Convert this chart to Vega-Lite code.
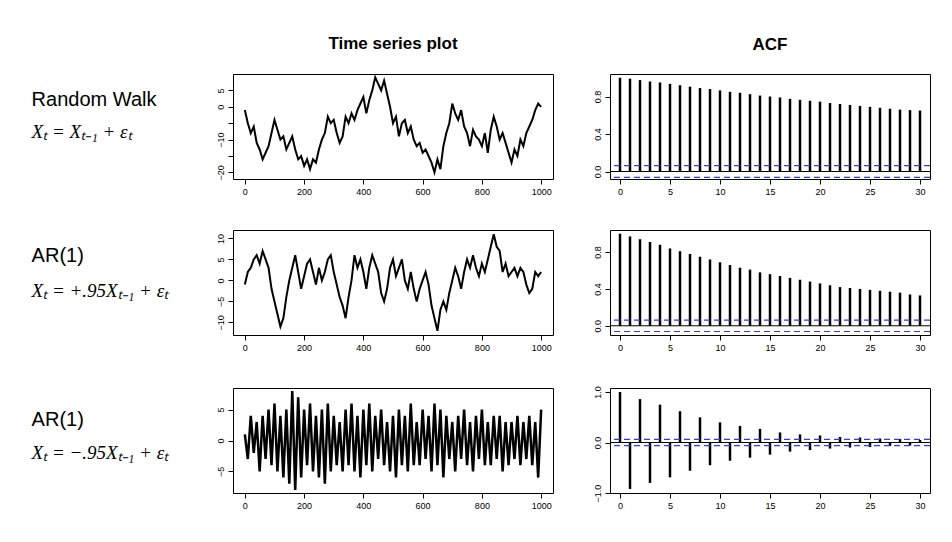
{
  "$schema": "https://vega.github.io/schema/vega-lite/v6.json",
  "background": "white",
  "padding": {"left": 5, "top": 34, "right": 5, "bottom": 5},
  "datasets": {
    "labels": [
      {"row": "rw", "name": "Random Walk", "formula": "Xₜ = Xₜ₋₁ + εₜ"},
      {"row": "ar1", "name": "AR(1)", "formula": "Xₜ = +.95Xₜ₋₁ + εₜ"},
      {"row": "ar2", "name": "AR(1)", "formula": "Xₜ = −.95Xₜ₋₁ + εₜ"}
    ],
    "ts": [
      {"s":"rw","t":0,"v":-1},{"s":"rw","t":10,"v":-5},{"s":"rw","t":20,"v":-8},{"s":"rw","t":30,"v":-6},{"s":"rw","t":40,"v":-11},{"s":"rw","t":50,"v":-13},{"s":"rw","t":60,"v":-16},{"s":"rw","t":70,"v":-14},{"s":"rw","t":80,"v":-12},{"s":"rw","t":90,"v":-8},
      {"s":"rw","t":100,"v":-4},{"s":"rw","t":110,"v":-7},{"s":"rw","t":120,"v":-10},{"s":"rw","t":130,"v":-9},{"s":"rw","t":140,"v":-13},{"s":"rw","t":150,"v":-11},{"s":"rw","t":160,"v":-9},{"s":"rw","t":170,"v":-13},{"s":"rw","t":180,"v":-16},{"s":"rw","t":190,"v":-15},
      {"s":"rw","t":200,"v":-18},{"s":"rw","t":210,"v":-16},{"s":"rw","t":220,"v":-19},{"s":"rw","t":230,"v":-16},{"s":"rw","t":240,"v":-17},{"s":"rw","t":250,"v":-13},{"s":"rw","t":260,"v":-10},{"s":"rw","t":270,"v":-8},{"s":"rw","t":280,"v":-3},{"s":"rw","t":290,"v":-5},
      {"s":"rw","t":300,"v":-4},{"s":"rw","t":310,"v":-8},{"s":"rw","t":320,"v":-11},{"s":"rw","t":330,"v":-9},{"s":"rw","t":340,"v":-3},{"s":"rw","t":350,"v":-5},{"s":"rw","t":360,"v":-2},{"s":"rw","t":370,"v":-4},{"s":"rw","t":380,"v":-1},{"s":"rw","t":390,"v":1},
      {"s":"rw","t":400,"v":3},{"s":"rw","t":410,"v":-2},{"s":"rw","t":420,"v":2},{"s":"rw","t":430,"v":5},{"s":"rw","t":440,"v":9},{"s":"rw","t":450,"v":7},{"s":"rw","t":460,"v":5},{"s":"rw","t":470,"v":8},{"s":"rw","t":480,"v":4},{"s":"rw","t":490,"v":0},
      {"s":"rw","t":500,"v":-5},{"s":"rw","t":510,"v":-3},{"s":"rw","t":520,"v":-9},{"s":"rw","t":530,"v":-5},{"s":"rw","t":540,"v":-4},{"s":"rw","t":550,"v":-8},{"s":"rw","t":560,"v":-6},{"s":"rw","t":570,"v":-10},{"s":"rw","t":580,"v":-12},{"s":"rw","t":590,"v":-11},
      {"s":"rw","t":600,"v":-14},{"s":"rw","t":610,"v":-13},{"s":"rw","t":620,"v":-15},{"s":"rw","t":630,"v":-17},{"s":"rw","t":640,"v":-20},{"s":"rw","t":650,"v":-16},{"s":"rw","t":660,"v":-19},{"s":"rw","t":670,"v":-12},{"s":"rw","t":680,"v":-8},{"s":"rw","t":690,"v":-5},
      {"s":"rw","t":700,"v":1},{"s":"rw","t":710,"v":-2},{"s":"rw","t":720,"v":-4},{"s":"rw","t":730,"v":-1},{"s":"rw","t":740,"v":-6},{"s":"rw","t":750,"v":-8},{"s":"rw","t":760,"v":-12},{"s":"rw","t":770,"v":-7},{"s":"rw","t":780,"v":-9},{"s":"rw","t":790,"v":-10},
      {"s":"rw","t":800,"v":-12},{"s":"rw","t":810,"v":-8},{"s":"rw","t":820,"v":-14},{"s":"rw","t":830,"v":-7},{"s":"rw","t":840,"v":-3},{"s":"rw","t":850,"v":-6},{"s":"rw","t":860,"v":-10},{"s":"rw","t":870,"v":-8},{"s":"rw","t":880,"v":-11},{"s":"rw","t":890,"v":-14},
      {"s":"rw","t":900,"v":-17},{"s":"rw","t":910,"v":-13},{"s":"rw","t":920,"v":-15},{"s":"rw","t":930,"v":-10},{"s":"rw","t":940,"v":-12},{"s":"rw","t":950,"v":-8},{"s":"rw","t":960,"v":-6},{"s":"rw","t":970,"v":-4},{"s":"rw","t":980,"v":-1},{"s":"rw","t":990,"v":1},{"s":"rw","t":1000,"v":0},

      {"s":"ar1","t":0,"v":-1},{"s":"ar1","t":10,"v":2},{"s":"ar1","t":20,"v":3},{"s":"ar1","t":30,"v":5},{"s":"ar1","t":40,"v":6},{"s":"ar1","t":50,"v":4},{"s":"ar1","t":60,"v":7},{"s":"ar1","t":70,"v":5},{"s":"ar1","t":80,"v":3},{"s":"ar1","t":90,"v":-2},
      {"s":"ar1","t":100,"v":-5},{"s":"ar1","t":110,"v":-8},{"s":"ar1","t":120,"v":-11},{"s":"ar1","t":130,"v":-9},{"s":"ar1","t":140,"v":-4},{"s":"ar1","t":150,"v":0},{"s":"ar1","t":160,"v":3},{"s":"ar1","t":170,"v":6},{"s":"ar1","t":180,"v":2},{"s":"ar1","t":190,"v":-2},
      {"s":"ar1","t":200,"v":1},{"s":"ar1","t":210,"v":4},{"s":"ar1","t":220,"v":5},{"s":"ar1","t":230,"v":2},{"s":"ar1","t":240,"v":-1},{"s":"ar1","t":250,"v":3},{"s":"ar1","t":260,"v":0},{"s":"ar1","t":270,"v":2},{"s":"ar1","t":280,"v":5},{"s":"ar1","t":290,"v":6},
      {"s":"ar1","t":300,"v":2},{"s":"ar1","t":310,"v":-1},{"s":"ar1","t":320,"v":-4},{"s":"ar1","t":330,"v":-6},{"s":"ar1","t":340,"v":-9},{"s":"ar1","t":350,"v":-4},{"s":"ar1","t":360,"v":0},{"s":"ar1","t":370,"v":6},{"s":"ar1","t":380,"v":3},{"s":"ar1","t":390,"v":5},
      {"s":"ar1","t":400,"v":2},{"s":"ar1","t":410,"v":-2},{"s":"ar1","t":420,"v":3},{"s":"ar1","t":430,"v":6},{"s":"ar1","t":440,"v":4},{"s":"ar1","t":450,"v":2},{"s":"ar1","t":460,"v":-3},{"s":"ar1","t":470,"v":-5},{"s":"ar1","t":480,"v":-2},{"s":"ar1","t":490,"v":3},
      {"s":"ar1","t":500,"v":5},{"s":"ar1","t":510,"v":1},{"s":"ar1","t":520,"v":3},{"s":"ar1","t":530,"v":5},{"s":"ar1","t":540,"v":0},{"s":"ar1","t":550,"v":-2},{"s":"ar1","t":560,"v":2},{"s":"ar1","t":570,"v":-2},{"s":"ar1","t":580,"v":-5},{"s":"ar1","t":590,"v":-2},
      {"s":"ar1","t":600,"v":0},{"s":"ar1","t":610,"v":2},{"s":"ar1","t":620,"v":-1},{"s":"ar1","t":630,"v":-6},{"s":"ar1","t":640,"v":-9},{"s":"ar1","t":650,"v":-12},{"s":"ar1","t":660,"v":-7},{"s":"ar1","t":670,"v":-5},{"s":"ar1","t":680,"v":-7},{"s":"ar1","t":690,"v":-3},
      {"s":"ar1","t":700,"v":0},{"s":"ar1","t":710,"v":3},{"s":"ar1","t":720,"v":1},{"s":"ar1","t":730,"v":-2},{"s":"ar1","t":740,"v":2},{"s":"ar1","t":750,"v":5},{"s":"ar1","t":760,"v":3},{"s":"ar1","t":770,"v":6},{"s":"ar1","t":780,"v":3},{"s":"ar1","t":790,"v":1},
      {"s":"ar1","t":800,"v":4},{"s":"ar1","t":810,"v":2},{"s":"ar1","t":820,"v":5},{"s":"ar1","t":830,"v":8},{"s":"ar1","t":840,"v":11},{"s":"ar1","t":850,"v":8},{"s":"ar1","t":860,"v":7},{"s":"ar1","t":870,"v":2},{"s":"ar1","t":880,"v":4},{"s":"ar1","t":890,"v":1},
      {"s":"ar1","t":900,"v":2},{"s":"ar1","t":910,"v":3},{"s":"ar1","t":920,"v":1},{"s":"ar1","t":930,"v":3},{"s":"ar1","t":940,"v":2},{"s":"ar1","t":950,"v":-1},{"s":"ar1","t":960,"v":-3},{"s":"ar1","t":970,"v":-2},{"s":"ar1","t":980,"v":2},{"s":"ar1","t":990,"v":1},{"s":"ar1","t":1000,"v":2},

      {"s":"ar2","t":0,"v":1},{"s":"ar2","t":10,"v":-3},{"s":"ar2","t":20,"v":4},{"s":"ar2","t":30,"v":-2},{"s":"ar2","t":40,"v":3},{"s":"ar2","t":50,"v":-5},{"s":"ar2","t":60,"v":4},{"s":"ar2","t":70,"v":-3},{"s":"ar2","t":80,"v":5},{"s":"ar2","t":90,"v":-4},
      {"s":"ar2","t":100,"v":6},{"s":"ar2","t":110,"v":-5},{"s":"ar2","t":120,"v":4},{"s":"ar2","t":130,"v":-6},{"s":"ar2","t":140,"v":5},{"s":"ar2","t":150,"v":-7},{"s":"ar2","t":160,"v":8},{"s":"ar2","t":170,"v":-8},{"s":"ar2","t":180,"v":7},{"s":"ar2","t":190,"v":-6},
      {"s":"ar2","t":200,"v":5},{"s":"ar2","t":210,"v":-4},{"s":"ar2","t":220,"v":6},{"s":"ar2","t":230,"v":-5},{"s":"ar2","t":240,"v":4},{"s":"ar2","t":250,"v":-6},{"s":"ar2","t":260,"v":5},{"s":"ar2","t":270,"v":-7},{"s":"ar2","t":280,"v":6},{"s":"ar2","t":290,"v":-5},
      {"s":"ar2","t":300,"v":4},{"s":"ar2","t":310,"v":-4},{"s":"ar2","t":320,"v":3},{"s":"ar2","t":330,"v":-5},{"s":"ar2","t":340,"v":5},{"s":"ar2","t":350,"v":-4},{"s":"ar2","t":360,"v":6},{"s":"ar2","t":370,"v":-5},{"s":"ar2","t":380,"v":4},{"s":"ar2","t":390,"v":-6},
      {"s":"ar2","t":400,"v":5},{"s":"ar2","t":410,"v":-4},{"s":"ar2","t":420,"v":6},{"s":"ar2","t":430,"v":-5},{"s":"ar2","t":440,"v":4},{"s":"ar2","t":450,"v":-3},{"s":"ar2","t":460,"v":5},{"s":"ar2","t":470,"v":-4},{"s":"ar2","t":480,"v":3},{"s":"ar2","t":490,"v":-5},
      {"s":"ar2","t":500,"v":4},{"s":"ar2","t":510,"v":-6},{"s":"ar2","t":520,"v":5},{"s":"ar2","t":530,"v":-4},{"s":"ar2","t":540,"v":4},{"s":"ar2","t":550,"v":-5},{"s":"ar2","t":560,"v":6},{"s":"ar2","t":570,"v":-4},{"s":"ar2","t":580,"v":3},{"s":"ar2","t":590,"v":-4},
      {"s":"ar2","t":600,"v":5},{"s":"ar2","t":610,"v":-3},{"s":"ar2","t":620,"v":4},{"s":"ar2","t":630,"v":-5},{"s":"ar2","t":640,"v":6},{"s":"ar2","t":650,"v":-4},{"s":"ar2","t":660,"v":5},{"s":"ar2","t":670,"v":-6},{"s":"ar2","t":680,"v":4},{"s":"ar2","t":690,"v":-3},
      {"s":"ar2","t":700,"v":3},{"s":"ar2","t":710,"v":-5},{"s":"ar2","t":720,"v":4},{"s":"ar2","t":730,"v":-3},{"s":"ar2","t":740,"v":5},{"s":"ar2","t":750,"v":-4},{"s":"ar2","t":760,"v":3},{"s":"ar2","t":770,"v":-5},{"s":"ar2","t":780,"v":4},{"s":"ar2","t":790,"v":-3},
      {"s":"ar2","t":800,"v":5},{"s":"ar2","t":810,"v":-4},{"s":"ar2","t":820,"v":3},{"s":"ar2","t":830,"v":-4},{"s":"ar2","t":840,"v":4},{"s":"ar2","t":850,"v":-3},{"s":"ar2","t":860,"v":4},{"s":"ar2","t":870,"v":-5},{"s":"ar2","t":880,"v":3},{"s":"ar2","t":890,"v":-4},
      {"s":"ar2","t":900,"v":3},{"s":"ar2","t":910,"v":-3},{"s":"ar2","t":920,"v":4},{"s":"ar2","t":930,"v":-4},{"s":"ar2","t":940,"v":3},{"s":"ar2","t":950,"v":-3},{"s":"ar2","t":960,"v":4},{"s":"ar2","t":970,"v":-4},{"s":"ar2","t":980,"v":3},{"s":"ar2","t":990,"v":-6},{"s":"ar2","t":1000,"v":5}
    ],
    "acf": [
      {"s":"rw","lag":0,"r":1},{"s":"rw","lag":1,"r":0.99},{"s":"rw","lag":2,"r":0.975},{"s":"rw","lag":3,"r":0.96},{"s":"rw","lag":4,"r":0.95},{"s":"rw","lag":5,"r":0.935},{"s":"rw","lag":6,"r":0.92},{"s":"rw","lag":7,"r":0.905},{"s":"rw","lag":8,"r":0.89},{"s":"rw","lag":9,"r":0.88},{"s":"rw","lag":10,"r":0.865},
      {"s":"rw","lag":11,"r":0.85},{"s":"rw","lag":12,"r":0.84},{"s":"rw","lag":13,"r":0.825},{"s":"rw","lag":14,"r":0.81},{"s":"rw","lag":15,"r":0.8},{"s":"rw","lag":16,"r":0.79},{"s":"rw","lag":17,"r":0.775},{"s":"rw","lag":18,"r":0.765},{"s":"rw","lag":19,"r":0.755},{"s":"rw","lag":20,"r":0.745},
      {"s":"rw","lag":21,"r":0.73},{"s":"rw","lag":22,"r":0.72},{"s":"rw","lag":23,"r":0.71},{"s":"rw","lag":24,"r":0.7},{"s":"rw","lag":25,"r":0.69},{"s":"rw","lag":26,"r":0.68},{"s":"rw","lag":27,"r":0.67},{"s":"rw","lag":28,"r":0.66},{"s":"rw","lag":29,"r":0.655},{"s":"rw","lag":30,"r":0.65},
      {"s":"ar1","lag":0,"r":1},{"s":"ar1","lag":1,"r":0.97},{"s":"ar1","lag":2,"r":0.94},{"s":"ar1","lag":3,"r":0.91},{"s":"ar1","lag":4,"r":0.88},{"s":"ar1","lag":5,"r":0.84},{"s":"ar1","lag":6,"r":0.81},{"s":"ar1","lag":7,"r":0.78},{"s":"ar1","lag":8,"r":0.75},{"s":"ar1","lag":9,"r":0.72},{"s":"ar1","lag":10,"r":0.69},
      {"s":"ar1","lag":11,"r":0.66},{"s":"ar1","lag":12,"r":0.63},{"s":"ar1","lag":13,"r":0.61},{"s":"ar1","lag":14,"r":0.58},{"s":"ar1","lag":15,"r":0.56},{"s":"ar1","lag":16,"r":0.54},{"s":"ar1","lag":17,"r":0.52},{"s":"ar1","lag":18,"r":0.5},{"s":"ar1","lag":19,"r":0.48},{"s":"ar1","lag":20,"r":0.46},
      {"s":"ar1","lag":21,"r":0.44},{"s":"ar1","lag":22,"r":0.42},{"s":"ar1","lag":23,"r":0.41},{"s":"ar1","lag":24,"r":0.4},{"s":"ar1","lag":25,"r":0.39},{"s":"ar1","lag":26,"r":0.38},{"s":"ar1","lag":27,"r":0.37},{"s":"ar1","lag":28,"r":0.36},{"s":"ar1","lag":29,"r":0.34},{"s":"ar1","lag":30,"r":0.33},
      {"s":"ar2","lag":0,"r":1},{"s":"ar2","lag":1,"r":-0.92},{"s":"ar2","lag":2,"r":0.86},{"s":"ar2","lag":3,"r":-0.8},{"s":"ar2","lag":4,"r":0.75},{"s":"ar2","lag":5,"r":-0.69},{"s":"ar2","lag":6,"r":0.62},{"s":"ar2","lag":7,"r":-0.56},{"s":"ar2","lag":8,"r":0.5},{"s":"ar2","lag":9,"r":-0.45},{"s":"ar2","lag":10,"r":0.4},
      {"s":"ar2","lag":11,"r":-0.36},{"s":"ar2","lag":12,"r":0.33},{"s":"ar2","lag":13,"r":-0.3},{"s":"ar2","lag":14,"r":0.27},{"s":"ar2","lag":15,"r":-0.24},{"s":"ar2","lag":16,"r":0.2},{"s":"ar2","lag":17,"r":-0.18},{"s":"ar2","lag":18,"r":0.16},{"s":"ar2","lag":19,"r":-0.15},{"s":"ar2","lag":20,"r":0.14},
      {"s":"ar2","lag":21,"r":-0.12},{"s":"ar2","lag":22,"r":0.11},{"s":"ar2","lag":23,"r":-0.1},{"s":"ar2","lag":24,"r":0.1},{"s":"ar2","lag":25,"r":-0.09},{"s":"ar2","lag":26,"r":0.08},{"s":"ar2","lag":27,"r":-0.07},{"s":"ar2","lag":28,"r":0.07},{"s":"ar2","lag":29,"r":-0.06},{"s":"ar2","lag":30,"r":0.05}
    ],
    "ci": [{"c": 0.062}, {"c": -0.062}],
    "zero": [{"z": 0}]
  },
  "vconcat": [
    {
      "hconcat": [
        {
          "width": 190, "height": 105,
          "view": {"stroke": null},
          "title": {"text": " ", "fontSize": 17, "offset": 20},
          "data": {"name": "labels"},
          "transform": [{"filter": "datum.row === 'rw'"}],
          "layer": [
            {"mark": {"type": "text", "align": "left", "font": "Arial", "fontSize": 20, "baseline": "middle"},
             "encoding": {"x": {"datum": 0.14, "type": "quantitative", "scale": {"domain": [0, 1]}, "axis": null},
                          "y": {"datum": 0.75, "type": "quantitative", "scale": {"domain": [0, 1]}, "axis": null},
                          "text": {"field": "name"}}},
            {"mark": {"type": "text", "align": "left", "font": "Liberation Serif", "fontStyle": "italic", "fontSize": 19, "baseline": "middle"},
             "encoding": {"x": {"datum": 0.14, "type": "quantitative"},
                          "y": {"datum": 0.45, "type": "quantitative"},
                          "text": {"field": "formula"}}}
          ]
        },
        {
          "spacing": 38,
          "hconcat": [
            {
              "width": 320, "height": 105,
              "title": {"text": "Time series plot", "fontSize": 17, "font": "Arial", "fontWeight": "bold", "offset": 20},
              "data": {"name": "ts"},
              "transform": [{"filter": "datum.s === 'rw'"}],
              "mark": {"type": "line", "color": "black", "strokeWidth": 2},
              "encoding": {
                "x": {"field": "t", "type": "quantitative", "title": null, "scale": {"domain": [-40, 1040], "nice": false}, "axis": {"values": [0, 200, 400, 600, 800, 1000], "format": "d"}},
                "y": {"field": "v", "type": "quantitative", "title": null, "scale": {"domain": [-22, 10], "nice": false}, "axis": {"values": [-20, -15, -10, -5, 0, 5], "labelExpr": "datum.value % 10 === 0 || datum.value === 5 ? datum.label : ''"}}
              }
            },
            {
              "width": 320, "height": 105,
              "title": {"text": "ACF", "fontSize": 17, "font": "Arial", "fontWeight": "bold", "offset": 20},
              "layer": [
                {"data": {"name": "acf"}, "transform": [{"filter": "datum.s === 'rw'"}],
                 "mark": {"type": "rule", "color": "black", "strokeWidth": 2.5},
                 "encoding": {"x": {"field": "lag", "type": "quantitative", "title": null, "scale": {"domain": [-1, 31], "nice": false}, "axis": {"values": [0, 5, 10, 15, 20, 25, 30]}},
                              "y": {"field": "r", "type": "quantitative", "title": null, "scale": {"domain": [-0.08, 1.04], "nice": false}, "axis": {"values": [0, 0.2, 0.4, 0.6, 0.8], "format": ".1f", "labelExpr": "datum.value === 0.2 || datum.value === 0.6 ? '' : datum.label"}},
                              "y2": {"datum": 0}}},
                {"data": {"name": "zero"}, "mark": {"type": "rule", "color": "black", "strokeWidth": 1}, "encoding": {"y": {"field": "z", "type": "quantitative"}}},
                {"data": {"name": "ci"}, "mark": {"type": "rule", "color": "#2a3bff", "strokeWidth": 1.2, "strokeDash": [6, 4]}, "encoding": {"y": {"field": "c", "type": "quantitative"}}}
              ]
            }
          ]
        }
      ]
    },
    {
      "hconcat": [
        {
          "width": 190, "height": 105,
          "view": {"stroke": null},
          "data": {"name": "labels"},
          "transform": [{"filter": "datum.row === 'ar1'"}],
          "layer": [
            {"mark": {"type": "text", "align": "left", "font": "Arial", "fontSize": 20, "baseline": "middle"},
             "encoding": {"x": {"datum": 0.14, "type": "quantitative", "scale": {"domain": [0, 1]}, "axis": null},
                          "y": {"datum": 0.75, "type": "quantitative", "scale": {"domain": [0, 1]}, "axis": null},
                          "text": {"field": "name"}}},
            {"mark": {"type": "text", "align": "left", "font": "Liberation Serif", "fontStyle": "italic", "fontSize": 19, "baseline": "middle"},
             "encoding": {"x": {"datum": 0.14, "type": "quantitative"},
                          "y": {"datum": 0.42, "type": "quantitative"},
                          "text": {"field": "formula"}}}
          ]
        },
        {
          "spacing": 38,
          "hconcat": [
            {
              "width": 320, "height": 105,
              "data": {"name": "ts"},
              "transform": [{"filter": "datum.s === 'ar1'"}],
              "mark": {"type": "line", "color": "black", "strokeWidth": 2},
              "encoding": {
                "x": {"field": "t", "type": "quantitative", "title": null, "scale": {"domain": [-40, 1040], "nice": false}, "axis": {"values": [0, 200, 400, 600, 800, 1000], "format": "d"}},
                "y": {"field": "v", "type": "quantitative", "title": null, "scale": {"domain": [-13, 12], "nice": false}, "axis": {"values": [-10, -5, 0, 5, 10]}}
              }
            },
            {
              "width": 320, "height": 105,
              "layer": [
                {"data": {"name": "acf"}, "transform": [{"filter": "datum.s === 'ar1'"}],
                 "mark": {"type": "rule", "color": "black", "strokeWidth": 2.5},
                 "encoding": {"x": {"field": "lag", "type": "quantitative", "title": null, "scale": {"domain": [-1, 31], "nice": false}, "axis": {"values": [0, 5, 10, 15, 20, 25, 30]}},
                              "y": {"field": "r", "type": "quantitative", "title": null, "scale": {"domain": [-0.1, 1.04], "nice": false}, "axis": {"values": [0, 0.2, 0.4, 0.6, 0.8], "format": ".1f", "labelExpr": "datum.value === 0.2 || datum.value === 0.6 ? '' : datum.label"}},
                              "y2": {"datum": 0}}},
                {"data": {"name": "zero"}, "mark": {"type": "rule", "color": "black", "strokeWidth": 1}, "encoding": {"y": {"field": "z", "type": "quantitative"}}},
                {"data": {"name": "ci"}, "mark": {"type": "rule", "color": "#2a3bff", "strokeWidth": 1.2, "strokeDash": [6, 4]}, "encoding": {"y": {"field": "c", "type": "quantitative"}}}
              ]
            }
          ]
        }
      ]
    },
    {
      "hconcat": [
        {
          "width": 190, "height": 105,
          "view": {"stroke": null},
          "data": {"name": "labels"},
          "transform": [{"filter": "datum.row === 'ar2'"}],
          "layer": [
            {"mark": {"type": "text", "align": "left", "font": "Arial", "fontSize": 20, "baseline": "middle"},
             "encoding": {"x": {"datum": 0.14, "type": "quantitative", "scale": {"domain": [0, 1]}, "axis": null},
                          "y": {"datum": 0.7, "type": "quantitative", "scale": {"domain": [0, 1]}, "axis": null},
                          "text": {"field": "name"}}},
            {"mark": {"type": "text", "align": "left", "font": "Liberation Serif", "fontStyle": "italic", "fontSize": 19, "baseline": "middle"},
             "encoding": {"x": {"datum": 0.14, "type": "quantitative"},
                          "y": {"datum": 0.38, "type": "quantitative"},
                          "text": {"field": "formula"}}}
          ]
        },
        {
          "spacing": 38,
          "hconcat": [
            {
              "width": 320, "height": 105,
              "data": {"name": "ts"},
              "transform": [{"filter": "datum.s === 'ar2'"}],
              "mark": {"type": "line", "color": "black", "strokeWidth": 2.5},
              "encoding": {
                "x": {"field": "t", "type": "quantitative", "title": null, "scale": {"domain": [-40, 1040], "nice": false}, "axis": {"values": [0, 200, 400, 600, 800, 1000], "format": "d"}},
                "y": {"field": "v", "type": "quantitative", "title": null, "scale": {"domain": [-8.5, 8.5], "nice": false}, "axis": {"values": [-5, 0, 5]}}
              }
            },
            {
              "width": 320, "height": 105,
              "layer": [
                {"data": {"name": "acf"}, "transform": [{"filter": "datum.s === 'ar2'"}],
                 "mark": {"type": "rule", "color": "black", "strokeWidth": 2.5},
                 "encoding": {"x": {"field": "lag", "type": "quantitative", "title": null, "scale": {"domain": [-1, 31], "nice": false}, "axis": {"values": [0, 5, 10, 15, 20, 25, 30]}},
                              "y": {"field": "r", "type": "quantitative", "title": null, "scale": {"domain": [-1, 1.08], "nice": false}, "axis": {"values": [-1, -0.5, 0, 0.5, 1], "format": ".1f"}},
                              "y2": {"datum": 0}}},
                {"data": {"name": "zero"}, "mark": {"type": "rule", "color": "black", "strokeWidth": 1}, "encoding": {"y": {"field": "z", "type": "quantitative"}}},
                {"data": {"name": "ci"}, "mark": {"type": "rule", "color": "#2a3bff", "strokeWidth": 1.2, "strokeDash": [6, 4]}, "encoding": {"y": {"field": "c", "type": "quantitative"}}}
              ]
            }
          ]
        }
      ]
    }
  ],
  "spacing": 32,
  "config": {
    "concat": {"spacing": 20},
    "view": {"stroke": "black", "strokeWidth": 1},
    "axis": {"grid": false, "domain": false, "tickColor": "black", "tickSize": 5, "labelColor": "black", "labelFont": "Arial", "labelFontSize": 9, "labelPadding": 3},
    "axisY": {"labelAngle": 270, "labelOverlap": false},
    "axisX": {"labelOverlap": false}
  }
}
